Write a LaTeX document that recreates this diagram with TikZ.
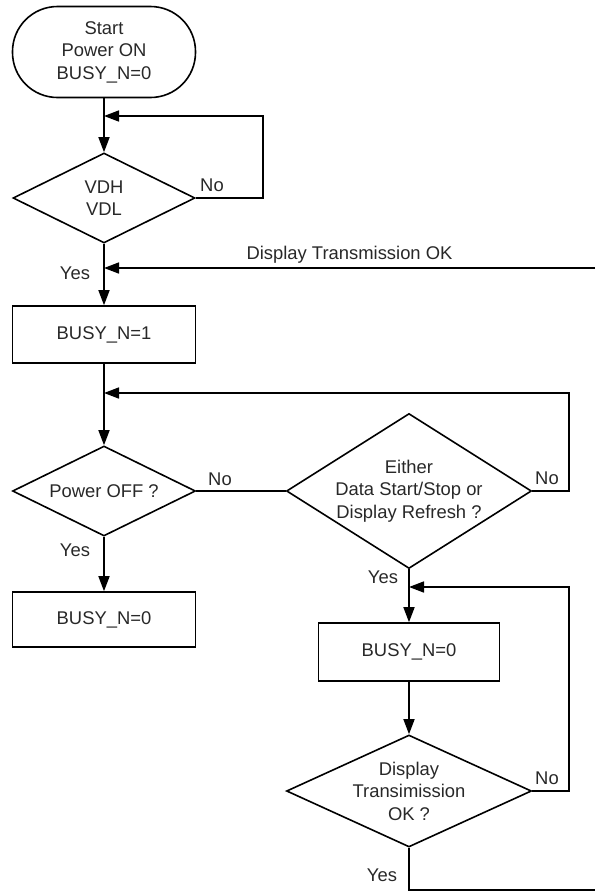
\documentclass[tikz,border=0pt]{standalone}
\usepackage{fontspec}
\setmainfont{Liberation Sans}
\usetikzlibrary{arrows.meta,shapes.geometric}
\definecolor{txtgray}{RGB}{40,40,40}
\begin{document}
\begin{tikzpicture}[x=1pt,y=-1pt,
  every node/.style={font=\fontsize{18.4}{22.5}\selectfont, text=txtgray},
  flow/.style={line width=1.6pt},
  arr/.style={flow,-{Triangle[length=15pt,width=11pt]}},
  box/.style={draw,line width=1.6pt,rectangle,minimum width=183pt,inner sep=0pt},
  term/.style={box,rounded corners=45pt,minimum height=91pt,align=center},
  dec/.style={draw,line width=1.6pt,diamond,inner sep=0pt},
  txt/.style={align=center,inner sep=0pt},
  lbl/.style={inner sep=0pt}
]
\useasboundingbox (0,0) rectangle (595,892);

% nodes
\node[term] (start) at (104,52) {Start\\Power ON\\BUSY\_N=0};
\node[dec,minimum width=182pt,minimum height=90pt] (d1) at (104,198) {};
\node[txt] (t1) at (d1.center) {VDH\\VDL};
\node[box,minimum height=57pt] (b1) at (104,334.5) {BUSY\_N=1};
\node[dec,minimum width=183pt,minimum height=90pt] (d2) at (104,491) {};
\node[txt] (t2) at (d2.center) {Power OFF ?};
\node[box,minimum height=55pt] (b2) at (104,619.5) {BUSY\_N=0};
\node[dec,minimum width=245pt,minimum height=155pt] (d3) at (409,491) {};
\node[txt] (t3) at (d3.center) {Either\\Data Start/Stop or\\Display Refresh ?};
\node[box,minimum width=181pt,minimum height=58pt] (b3) at (409,652) {BUSY\_N=0};
\node[dec,minimum width=245pt,minimum height=112pt] (d4) at (409,791) {};
\node[txt] (t4) at (d4.center) {Display\\Transimission\\OK ?};

% labels
\node[lbl] (no1) at (212,185) {No};
\node[lbl] (yes1) at (75,273) {Yes};
\node[lbl,anchor=base] (dtl) at (349.5,259) {Display Transmission OK};
\node[lbl] (no2) at (220,479) {No};
\node[lbl] (yes2) at (75,550) {Yes};
\node[lbl] (no3) at (547,478) {No};
\node[lbl] (yes3) at (383,577) {Yes};
\node[lbl] (no4) at (547,778) {No};
\node[lbl] (yes4) at (382,875) {Yes};

% coordinates
\coordinate (c1) at (263,116);
\coordinate (j1) at (104,116);
\coordinate (dtR) at (595,268);
\coordinate (j2) at (104,268);
\coordinate (c2) at (569,393);
\coordinate (j3) at (104,393);
\coordinate (c3) at (569,587);
\coordinate (j4) at (409,587);
\coordinate (e4) at (595,890);

% connectors
\draw[arr] (start.south) -- (d1.north);
\draw[arr] (d1.east) -| (c1) -- (j1);
\draw[arr] (d1.south) -- (b1.north);
\draw[arr] (dtR) -- (j2);
\draw[arr] (b1.south) -- (d2.north);
\draw[flow] (d2.east) -- (d3.west);
\draw[arr] (d3.east) -| (c2) -- (j3);
\draw[arr] (d2.south) -- (b2.north);
\draw[arr] (d3.south) -- (b3.north);
\draw[arr] (d4.east) -| (c3) -- (j4);
\draw[arr] (b3.south) -- (d4.north);
\draw[flow] (d4.south) |- (e4);
\end{tikzpicture}
\end{document}
